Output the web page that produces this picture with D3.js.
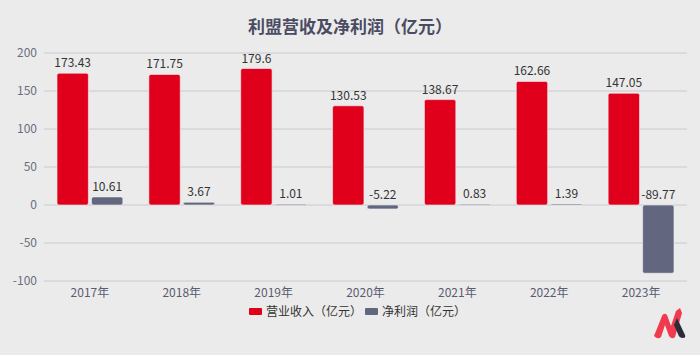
<!DOCTYPE html>
<html><head><meta charset="utf-8">
<script src="https://cdn.jsdelivr.net/npm/d3@7"></script>
<style>body{margin:0;background:#ebebeb;}svg{display:block;font-family:"Noto Sans CJK SC","Noto Sans",sans-serif;}</style>
</head><body>
<svg id="c" width="700" height="355"></svg>
<script>
const categories = ["2017年","2018年","2019年","2020年","2021年","2022年","2023年"];
const revenue = [173.43,171.75,179.6,130.53,138.67,162.66,147.05];
const profit = [10.61,3.67,1.01,-5.22,0.83,1.39,-89.77];
const yTicks = [200,150,100,50,0,-50,-100];
const seriesNames = ["营业收入（亿元）","净利润（亿元）"];
const colors = ["#e0001b","#62667f"];

const svg = d3.select("#c");
svg.append("rect").attr("width",700).attr("height",355).attr("fill","#ebebeb");
svg.append("text").attr("x",350).attr("y",33).attr("text-anchor","middle")
  .attr("font-size",17).attr("font-weight","bold").attr("fill","#4a4c62").text("利盟营收及净利润（亿元）");

const x = d3.scaleBand().domain(categories).range([44,687]);
const y = d3.scaleLinear().domain([-100,200]).range([281,53]);
const inner = d3.scaleBand().domain([0,1]).range([13, x.bandwidth()-13]).paddingInner(0.09);

const g = svg.append("g");
g.selectAll(".grid").data(yTicks).join("line")
  .attr("x1",44).attr("x2",687).attr("y1",d=>y(d)).attr("y2",d=>y(d))
  .attr("stroke","#c9c9d2").attr("stroke-width",1);
g.selectAll(".yl").data(yTicks).join("text")
  .attr("x",37).attr("y",d=>y(d)+4).attr("text-anchor","end")
  .attr("font-size",12).attr("fill","#6b6d80").text(d=>d);
g.selectAll(".xl").data(categories).join("text")
  .attr("x",d=>x(d)+x.bandwidth()/2).attr("y",297).attr("text-anchor","middle")
  .attr("font-size",12).attr("fill","#5a5c70").text(d=>d);

[revenue,profit].forEach((vals,si)=>{
  const bars = g.append("g");
  vals.forEach((v,i)=>{
    const bx = x(categories[i]) + inner(si);
    const top = y(Math.max(0,v)), bot = y(Math.min(0,v));
    bars.append("rect").attr("x",bx).attr("y",top).attr("width",inner.bandwidth())
      .attr("height",Math.max(1,bot-top)).attr("rx",2).attr("fill",colors[si])
      .attr("stroke","#f4f4f4").attr("stroke-width",0.6);
    bars.append("text").attr("x",bx+inner.bandwidth()/2).attr("y",y(Math.max(0,v))-6)
      .attr("text-anchor","middle").attr("font-size",12).attr("fill","#333")
      .text(v);
  });
});

// legend
const leg = svg.append("g");
const lx = [249, 365];
seriesNames.forEach((n,i)=>{
  leg.append("rect").attr("x",lx[i]).attr("y",308).attr("width",13).attr("height",7).attr("rx",1).attr("fill",colors[i]);
  leg.append("text").attr("x",lx[i]+17).attr("y",316).attr("font-size",12).attr("fill","#333").text(n);
});

// logo
const logo = svg.append("g");
logo.append("path").attr("d","M654,336 L662,316 Q664,312 667,315 L671,326 L676,311 L680,308 L682,313 L675,337 Q672,340 669,336 L665,325 L661,337 Q658,340 654,336 Z").attr("fill","#f03a4d");
logo.append("path").attr("d","M677,318 L685,335 Q686,338 683,338 Q679,338 678,334 L674,325 Z").attr("fill","#2a2c3a");
</script>
</body></html>
